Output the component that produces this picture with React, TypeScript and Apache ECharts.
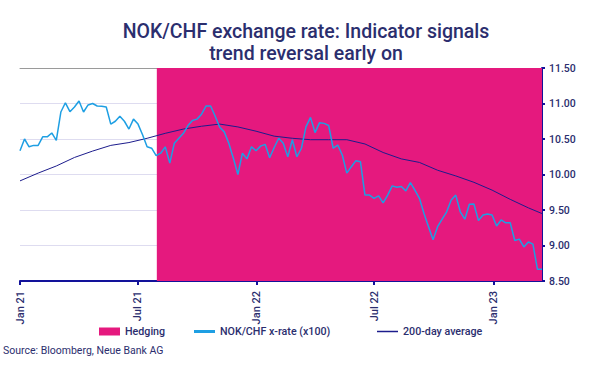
import React, { useEffect, useRef } from "react";
import * as echarts from "echarts";

const TITLE = "NOK/CHF exchange rate: Indicator signals\ntrend reversal early on";
const SOURCE = "Source: Bloomberg, Neue Bank AG";
const SERIES_NAMES = ["Hedging", "NOK/CHF x-rate (x100)", "200-day average"];

// x values are days since 2021-01-01; observations are weekly
const DAYS_PER_WEEK = 7;
const HEDGE_START_DAY = 211; // 2021-07-31
const TICK_DAYS = [0, 181, 365, 546, 730];
const TICK_LABELS = ["Jan 21", "Jul 21", "Jan 22", "Jul 22", "Jan 23"];

const rateValues = [
  10.335, 10.5, 10.39, 10.41, 10.41, 10.53, 10.53, 10.585, 10.48, 10.88,
  11.01, 10.885, 10.95, 11.035, 10.88, 10.98, 11.0, 10.965, 10.96, 10.95,
  10.71, 10.75, 10.82, 10.75, 10.64, 10.78, 10.71, 10.56, 10.39, 10.37,
  10.265, 10.3, 10.39, 10.16, 10.44, 10.51, 10.58, 10.69, 10.76, 10.78,
  10.85, 10.965, 10.965, 10.82, 10.665, 10.6, 10.44, 10.23, 10.0, 10.3,
  10.22, 10.39, 10.335, 10.4, 10.425, 10.235, 10.38, 10.51, 10.44, 10.25,
  10.49, 10.25, 10.37, 10.67, 10.805, 10.59, 10.73, 10.72, 10.69, 10.37,
  10.415, 10.275, 10.02, 10.11, 10.195, 10.18, 9.71, 9.71, 9.665, 9.7,
  9.6, 9.71, 9.84, 9.82, 9.83, 9.77, 9.885, 9.78, 9.665, 9.45,
  9.265, 9.08, 9.265, 9.37, 9.475, 9.64, 9.71, 9.475, 9.37, 9.58,
  9.585, 9.35, 9.43, 9.445, 9.43, 9.275, 9.36, 9.32, 9.32, 9.07,
  9.09, 8.98, 9.05, 9.02, 8.665, 8.665,
];

const maWeeks = [0, 4, 8, 12, 16, 20, 24, 28, 32, 36, 40, 44, 48, 52, 56, 60, 64, 68, 72, 76, 80, 84, 88, 92, 96, 100, 104, 108, 112, 115];
const maValues = [
  9.91, 10.02, 10.12, 10.24, 10.33, 10.41, 10.45, 10.51, 10.58, 10.64,
  10.68, 10.71, 10.67, 10.61, 10.54, 10.51, 10.49, 10.49, 10.49, 10.43,
  10.31, 10.22, 10.17, 10.06, 9.98, 9.89, 9.78, 9.65, 9.53, 9.45,
];

const Y_MIN = 8.5;
const Y_MAX = 11.5;
const Y_STEP = 0.5;

const NAVY = "#12129a";
const TEXT = "#2b2e6e";
const PINK = "#e5197e";
const BLUE = "#1e9fe3";
const MA_COLOR = "#1c1c8c";
const FONT = "Roboto";

export default function App() {
  const ref = useRef<HTMLDivElement>(null);
  useEffect(() => {
    if (!ref.current) return;
    const chart = echarts.init(ref.current, undefined, { renderer: "svg" });
    const rateData = rateValues.map((v, i) => [i * DAYS_PER_WEEK, v]);
    const maData = maValues.map((v, i) => [maWeeks[i] * DAYS_PER_WEEK, v]);
    const xMax = (rateValues.length - 1) * DAYS_PER_WEEK;
    const fmt = (v: number) => {
      const k = TICK_DAYS.indexOf(v);
      return k >= 0 ? TICK_LABELS[k] : "";
    };
    const legendText = { fontFamily: FONT, fontSize: 10.7, fontWeight: 500, color: TEXT };
    chart.setOption({
      animation: false,
      title: {
        text: TITLE,
        left: 301,
        top: 15,
        textAlign: "center",
        textStyle: { fontFamily: FONT, fontSize: 19.5, fontWeight: 500, lineHeight: 22, color: TEXT },
      },
      grid: { left: 20, right: 52, top: 68, bottom: 88 },
      legend: [
        {
          data: [{ name: SERIES_NAMES[0], icon: "rect" }],
          left: 94, top: 321, itemWidth: 21, itemHeight: 8,
          textStyle: legendText,
        },
        {
          data: [{ name: SERIES_NAMES[1], icon: "rect" }],
          left: 189, top: 321, itemWidth: 21, itemHeight: 3,
          textStyle: legendText,
        },
        {
          data: [{ name: SERIES_NAMES[2], icon: "rect" }],
          left: 372, top: 321, itemWidth: 21, itemHeight: 1.5,
          textStyle: legendText,
        },
      ],
      graphic: [
        {
          type: "text",
          left: 3,
          top: 345,
          style: { text: SOURCE, fontFamily: FONT, fontSize: 10.5, fill: TEXT },
        },
      ],
      xAxis: [
        {
          type: "value",
          min: 0,
          max: xMax,
          axisLine: { show: true, onZero: false, lineStyle: { color: NAVY, width: 2 } },
          axisTick: { show: true, customValues: TICK_DAYS, length: 4, lineStyle: { color: NAVY, width: 2 } },
          axisLabel: {
            customValues: TICK_DAYS,
            rotate: 90,
            formatter: fmt,
            fontFamily: FONT,
            fontSize: 11,
            fontWeight: 500,
            color: TEXT,
            margin: 10,
          },
          splitLine: { show: false },
        },
        {
          type: "value",
          position: "top",
          min: 0,
          max: xMax,
          axisLine: { show: true, onZero: false, lineStyle: { color: "#9a9a9a", width: 1 } },
          axisTick: { show: false },
          axisLabel: { show: false },
          splitLine: { show: false },
        },
      ],
      yAxis: {
        type: "value",
        position: "right",
        min: Y_MIN,
        max: Y_MAX,
        interval: Y_STEP,
        axisLine: { show: true, onZero: false, lineStyle: { color: NAVY, width: 2 } },
        axisTick: { show: true, length: 3, lineStyle: { color: NAVY, width: 2 } },
        axisLabel: {
          formatter: (v: number) => v.toFixed(2),
          fontFamily: FONT,
          fontSize: 10.5,
          fontWeight: 500,
          color: TEXT,
          margin: 7,
        },
        splitLine: { show: true, lineStyle: { color: "#dedcf0", width: 1 } },
      },
      series: [
        {
          name: SERIES_NAMES[0],
          type: "bar",
          data: [],
          itemStyle: { color: PINK },
          markArea: {
            silent: true,
            itemStyle: { color: PINK, opacity: 1 },
            data: [[{ xAxis: HEDGE_START_DAY }, { xAxis: xMax }]],
          },
        },
        {
          name: SERIES_NAMES[2],
          type: "line",
          data: maData,
          showSymbol: false,
          lineStyle: { color: MA_COLOR, width: 1 },
          itemStyle: { color: MA_COLOR },
          z: 3,
        },
        {
          name: SERIES_NAMES[1],
          type: "line",
          data: rateData,
          showSymbol: false,
          lineStyle: { color: BLUE, width: 1.5 },
          itemStyle: { color: BLUE },
          z: 4,
        },
      ],
    });
    return () => chart.dispose();
  }, []);
  return <div ref={ref} style={{ position: "absolute", left: 0, top: 0, width: 594, height: 369 }} />;
}
